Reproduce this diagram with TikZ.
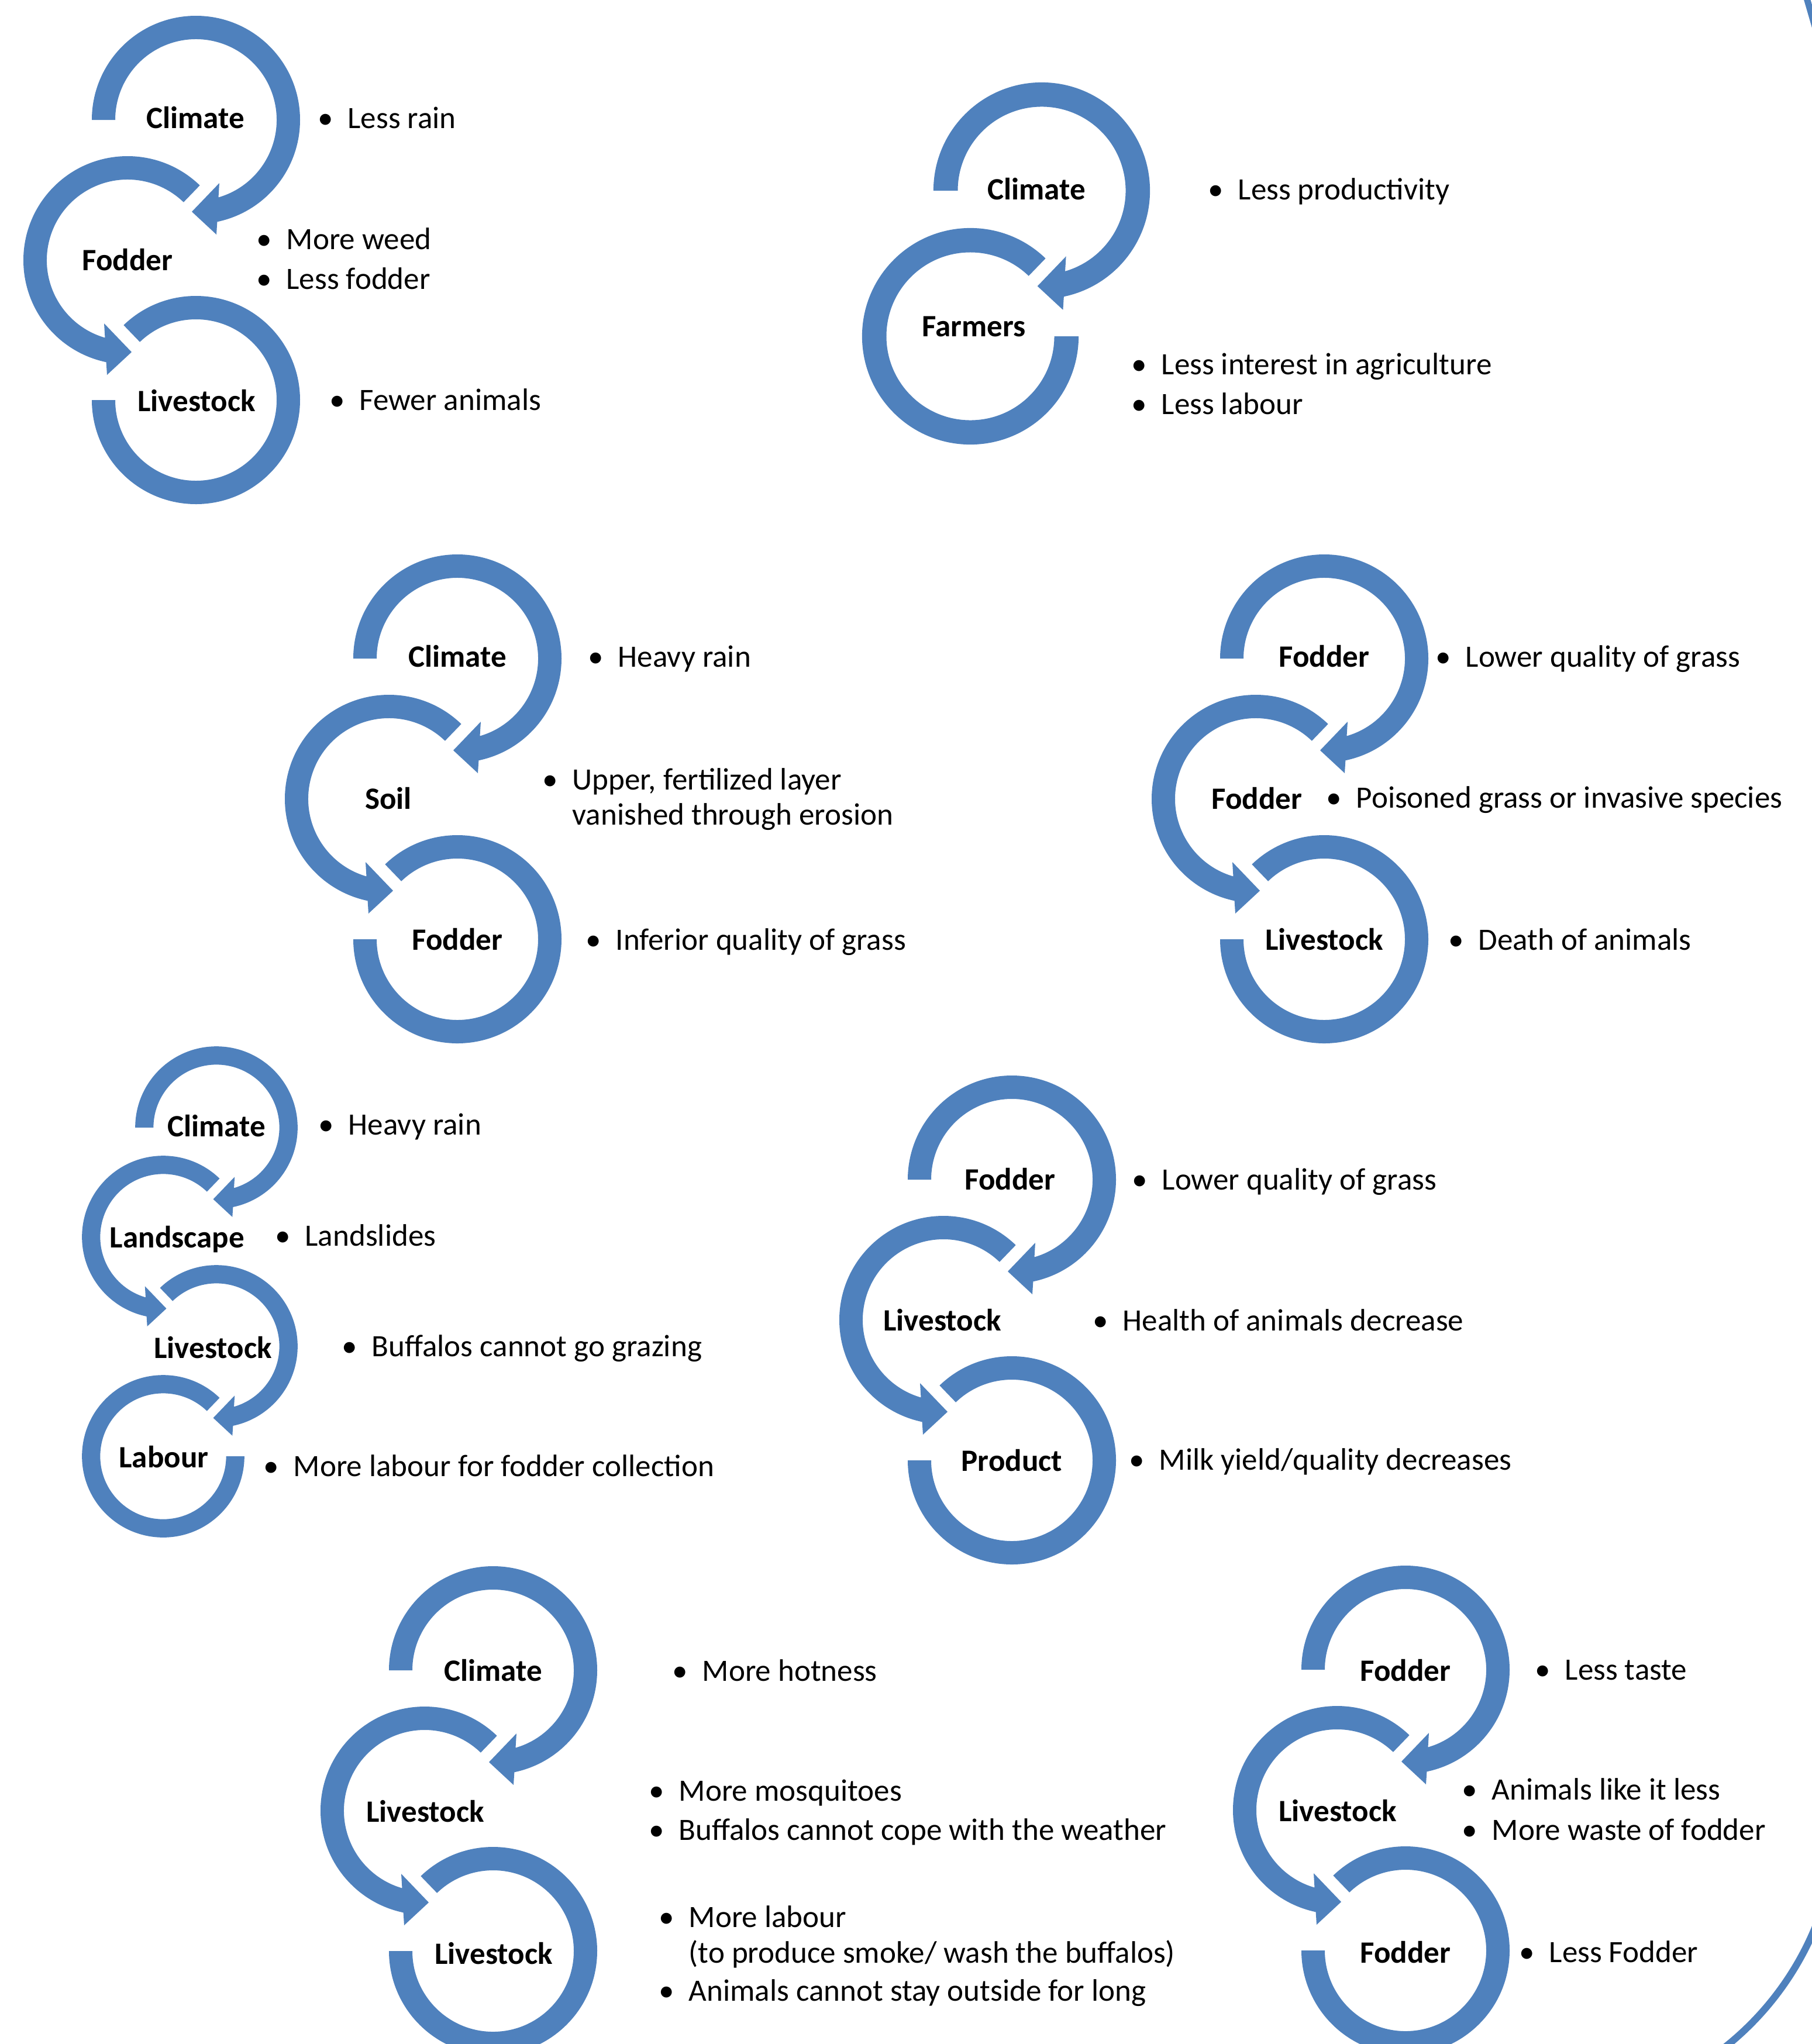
\documentclass[tikz,border=0pt]{standalone}
\usepackage{fontspec}
\setmainfont{Carlito}
\usepackage{xcolor}
\usepackage{tikz}
\usetikzlibrary{calc}

\definecolor{ringblue}{RGB}{79,129,189}
\newcommand{\figfont}{\fontsize{15.1pt}{18pt}\selectfont}
% bullet item: name, x of text, baseline, text
\newcommand{\fignote}[4]{%
  \node[bulletmark] (#1dot) at ({#2-0.37},#3) {\textbullet};
  \node[note] (#1) at (#2,#3) {#4};}

\begin{document}
\begin{tikzpicture}[
  ringlabel/.style={font=\figfont\bfseries, anchor=base, inner sep=0pt},
  note/.style={font=\figfont, anchor=base west, inner sep=0pt},
  bulletmark/.style={font=\figfont, anchor=base, inner sep=0pt},
  pics/cwarrow/.style={code={
    \fill[ringblue] (#1:1.78) arc[start angle=#1, end angle=-78.2, radius=1.78]
      -- (0.35,-1.96) -- (-0.07,-1.57) -- (0.40,-1.08) -- (-73.8:1.38)
      arc[start angle=-73.8, end angle=#1, radius=1.38] -- cycle;
  }},
  pics/ccwarrow/.style={code={
    \fill[ringblue] (#1:1.78) arc[start angle=#1, end angle=258.2, radius=1.78]
      -- (-0.35,-1.96) -- (0.07,-1.57) -- (-0.40,-1.08) -- (253.8:1.38)
      arc[start angle=253.8, end angle=#1, radius=1.38] -- cycle;
  }},
  pics/cwend/.style={code={
    \fill[ringblue] (134:1.78) arc[start angle=134, end angle=-180, radius=1.78]
      -- (180:1.38) arc[start angle=-180, end angle=134, radius=1.38] -- cycle;
  }},
  pics/ccwend/.style={code={
    \fill[ringblue] (46:1.78) arc[start angle=46, end angle=360, radius=1.78]
      -- (0:1.38) arc[start angle=360, end angle=46, radius=1.38] -- cycle;
  }}]
  \useasboundingbox (0,0) rectangle (30.98,-34.95);
  \fill[white] (0,0) rectangle (30.98,-34.95);

  % Climate - Fodder - Livestock
  \pic at (3.35,-2.05) {cwarrow=180};
  \pic at (2.18,-4.45) {ccwarrow=46};
  \pic at (3.35,-6.84) {cwend};
  \node[ringlabel] (a1) at (3.34,-2.19) {Climate};
  \node[ringlabel] (a2) at (2.18,-4.62) {Fodder};
  \node[ringlabel] (a3) at (3.36,-7.03) {Livestock};
  \fignote{a1n}{5.94}{-2.19}{Less rain}
  \fignote{a2n}{4.89}{-4.26}{More weed}
  \fignote{a2m}{4.89}{-4.94}{Less fodder}
  \fignote{a3n}{6.14}{-7.01}{Fewer animals}

  % Climate - Farmers
  \pic[scale=1.04] at (17.81,-3.26) {cwarrow=180};
  \pic[scale=1.04] at (16.59,-5.75) {ccwend};
  \node[ringlabel] (b1) at (17.72,-3.41) {Climate};
  \node[ringlabel] (b2) at (16.65,-5.75) {Farmers};
  \fignote{b1n}{21.16}{-3.41}{Less productivity}
  \fignote{b2n}{19.85}{-6.40}{Less interest in agriculture}
  \fignote{b2m}{19.85}{-7.08}{Less labour}

  % Climate - Soil - Fodder
  \pic at (7.82,-11.26) {cwarrow=180};
  \pic at (6.65,-13.66) {ccwarrow=46};
  \pic at (7.82,-16.06) {cwend};
  \node[ringlabel] (c1) at (7.82,-11.40) {Climate};
  \node[ringlabel] (c2) at (6.64,-13.83) {Soil};
  \node[ringlabel] (c3) at (7.82,-16.24) {Fodder};
  \fignote{c1n}{10.56}{-11.40}{Heavy rain}
  \fignote{c2n}{9.78}{-13.50}{Upper, fertilized layer}
  \node[note] (c2m) at (9.78,-14.10) {vanished through erosion};
  \fignote{c3n}{10.52}{-16.24}{Inferior quality of grass}

  % Fodder - Fodder - Livestock
  \pic at (22.64,-11.26) {cwarrow=180};
  \pic at (21.47,-13.66) {ccwarrow=46};
  \pic at (22.64,-16.06) {cwend};
  \node[ringlabel] (d1) at (22.64,-11.40) {Fodder};
  \node[ringlabel] (d2) at (21.49,-13.83) {Fodder};
  \node[ringlabel] (d3) at (22.64,-16.24) {Livestock};
  \fignote{d1n}{25.05}{-11.40}{Lower quality of grass}
  \fignote{d2n}{23.18}{-13.81}{Poisoned grass or invasive species}
  \fignote{d3n}{25.27}{-16.24}{Death of animals}

  % Climate - Landscape - Livestock - Labour
  \pic[scale=0.78] at (3.70,-19.28) {cwarrow=180};
  \pic[scale=0.78] at (2.79,-21.15) {ccwarrow=46};
  \pic[scale=0.78] at (3.70,-23.02) {cwarrow=134};
  \pic[scale=0.78] at (2.79,-24.90) {ccwend};
  \node[ringlabel] (e1) at (3.70,-19.43) {Climate};
  \node[ringlabel] (e2) at (3.03,-21.33) {Landscape};
  \node[ringlabel] (e3) at (3.64,-23.22) {Livestock};
  \node[ringlabel] (e4) at (2.80,-25.09) {Labour};
  \fignote{e1n}{5.95}{-19.40}{Heavy rain}
  \fignote{e2n}{5.21}{-21.30}{Landslides}
  \fignote{e3n}{6.35}{-23.19}{Buffalos cannot go grazing}
  \fignote{e4n}{5.01}{-25.24}{More labour for fodder collection}

  % Fodder - Livestock - Product
  \pic at (17.30,-20.17) {cwarrow=180};
  \pic at (16.13,-22.57) {ccwarrow=46};
  \pic at (17.30,-24.97) {cwend};
  \node[ringlabel] (f1) at (17.27,-20.34) {Fodder};
  \node[ringlabel] (f2) at (16.11,-22.75) {Livestock};
  \node[ringlabel] (f3) at (17.30,-25.15) {Product};
  \fignote{f1n}{19.86}{-20.34}{Lower quality of grass}
  \fignote{f2n}{19.19}{-22.75}{Health of animals decrease}
  \fignote{f3n}{19.81}{-25.13}{Milk yield/quality decreases}

  % Climate - Livestock - Livestock
  \pic at (8.43,-28.56) {cwarrow=180};
  \pic at (7.26,-30.96) {ccwarrow=46};
  \pic at (8.43,-33.36) {cwend};
  \node[ringlabel] (g1) at (8.43,-28.74) {Climate};
  \node[ringlabel] (g2) at (7.27,-31.15) {Livestock};
  \node[ringlabel] (g3) at (8.44,-33.58) {Livestock};
  \fignote{g1n}{12.00}{-28.74}{More hotness}
  \fignote{g2n}{11.60}{-30.79}{More mosquitoes}
  \fignote{g2m}{11.60}{-31.46}{Buffalos cannot cope with the weather}
  \fignote{g3n}{11.77}{-32.95}{More labour}
  \node[note] (g3l) at (11.77,-33.56) {(to produce smoke/ wash the buffalos)};
  \fignote{g3m}{11.77}{-34.21}{Animals cannot stay outside for long}

  % Fodder - Livestock - Fodder
  \pic at (24.03,-28.55) {cwarrow=180};
  \pic at (22.86,-30.95) {ccwarrow=46};
  \pic at (24.03,-33.35) {cwend};
  \node[ringlabel] (h1) at (24.03,-28.74) {Fodder};
  \node[ringlabel] (h2) at (22.87,-31.14) {Livestock};
  \node[ringlabel] (h3) at (24.03,-33.56) {Fodder};
  \fignote{h1n}{26.75}{-28.72}{Less taste}
  \fignote{h2n}{25.50}{-30.77}{Animals like it less}
  \fignote{h2m}{25.50}{-31.46}{More waste of fodder}
  \fignote{h3n}{26.48}{-33.55}{Less Fodder}

  % arcs at the right edge
  \coordinate (arcc) at (26.32,-31.01);
  \draw[ringblue, line width=0.12cm] (arcc) ++(-18:5.10) arc[start angle=-18, end angle=-58, radius=5.10];
  \draw[ringblue, line width=0.11cm] (30.87,0.10) -- (31.05,-0.52);
\end{tikzpicture}
\end{document}
